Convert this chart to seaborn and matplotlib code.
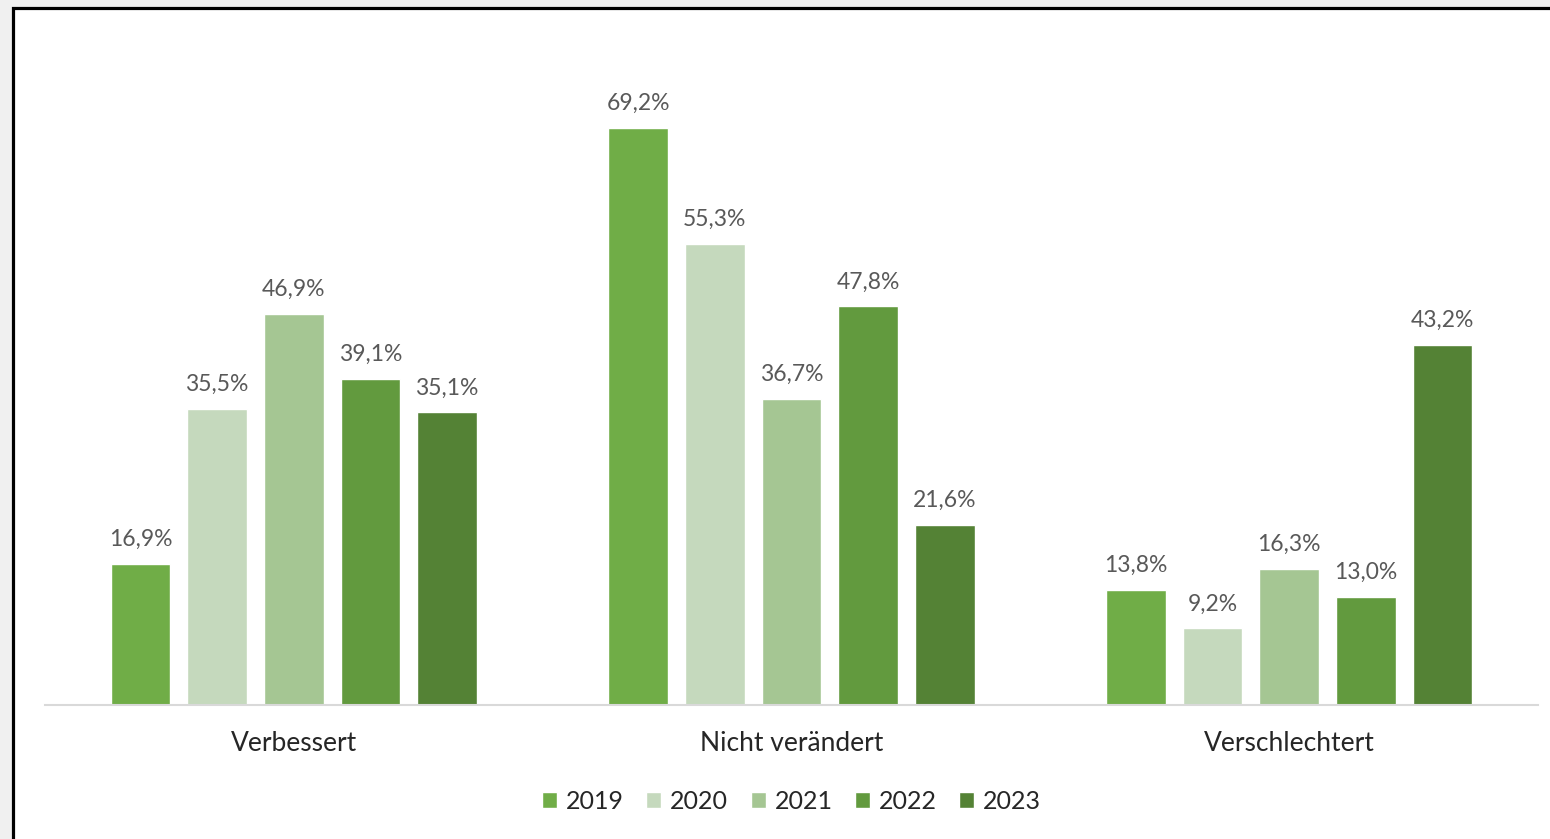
import pandas as pd
import numpy as np
import seaborn as sns
import matplotlib.pyplot as plt
from matplotlib.patches import Rectangle

# Daten aus dem Diagramm
kategorien = ["Verbessert", "Nicht verändert", "Verschlechtert"]
jahre = ["2019", "2020", "2021", "2022", "2023"]
werte_2019 = [16.9, 69.2, 13.8]
werte_2020 = [35.5, 55.3, 9.2]
werte_2021 = [46.9, 36.7, 16.3]
werte_2022 = [39.1, 47.8, 13.0]
werte_2023 = [35.1, 21.6, 43.2]
farben = ["#70AD47", "#C5D9BD", "#A5C693", "#629A3E", "#548235"]

serien = [werte_2019, werte_2020, werte_2021, werte_2022, werte_2023]
df = pd.DataFrame(
    [(k, j, v) for j, vals in zip(jahre, serien) for k, v in zip(kategorien, vals)],
    columns=["Kategorie", "Jahr", "Wert"],
)

sns.set_style("white")
plt.rcParams["font.family"] = ["Lato", "DejaVu Sans"]

fig = plt.figure(figsize=(15.5, 8.39), dpi=100, facecolor="#f0f0f0")
# weisser Rahmen mit schwarzer Kante (wie Screenshot)
fig.patches.append(Rectangle((13.5 / 1550, -0.05), 1.1, 1 - 7.5 / 839 + 0.05,
                             transform=fig.transFigure, facecolor="white",
                             edgecolor="black", linewidth=2.3, zorder=-1))

ax = fig.add_axes([45 / 1550, 1 - 705 / 839, (1538 - 45) / 1550, 667 / 839])
ax.set_zorder(1)
ax.set_facecolor("none")

sns.barplot(data=df, x="Kategorie", y="Wert", hue="Jahr", palette=farben,
            saturation=1, width=0.77, gap=0.22, ax=ax, legend=True)

for cont in ax.containers:
    labels = [f"{b.get_height():.1f}%".replace(".", ",") for b in cont]
    ax.bar_label(cont, labels=labels, padding=10, fontsize=16.5, color="#595959")

ax.set_xlim(-0.5, 2.5)
ax.set_ylim(0, 80)
ax.set_xlabel("")
ax.set_ylabel("")
ax.set_yticks([])
ax.tick_params(axis="x", length=0, labelsize=19, pad=19, colors="#262626")
for s in ["top", "right", "left"]:
    ax.spines[s].set_visible(False)
ax.spines["bottom"].set_color("#d9d9d9")
ax.spines["bottom"].set_linewidth(1.5)

handles, lbls = ax.get_legend_handles_labels()
ax.legend(handles, lbls, loc="center", bbox_to_anchor=(0.5, -0.145), ncol=5,
          frameon=False, fontsize=18, handlelength=0.6, handleheight=0.6,
          handletextpad=0.35, columnspacing=0.9, labelcolor="#262626")

plt.savefig("out.png", dpi=100, facecolor=fig.get_facecolor())
plt.close()
